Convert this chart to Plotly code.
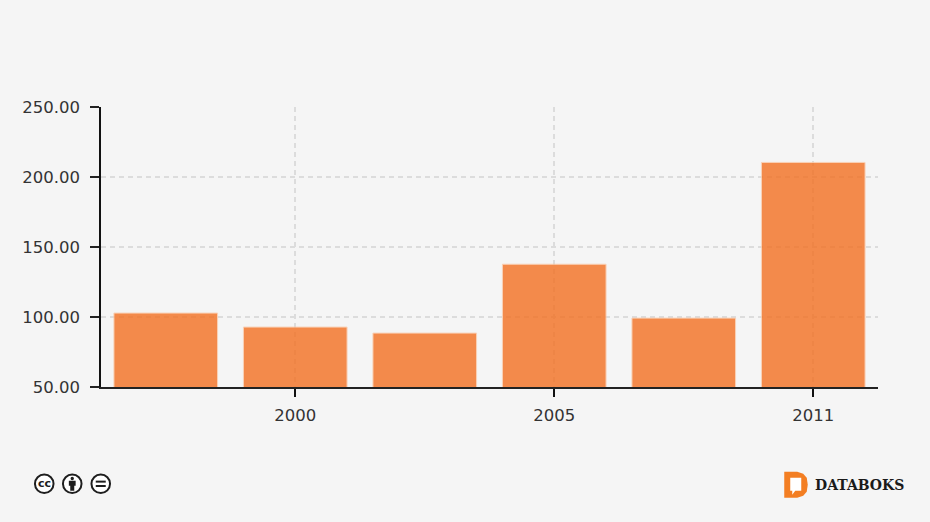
import plotly.graph_objects as go

W, H = 930, 522
L, R, T, B = 100.75, 877.75, 106.5, 387.0

categories = ["1995", "2000", "2003", "2005", "2008", "2011"]
values = [102.8, 92.8, 88.5, 137.7, 99.2, 210.4]
x_tick_labels = ["2000", "2005", "2011"]
y_ticks = [50, 100, 150, 200, 250]

BG = "#f5f5f5"
BAR = "#f37021"
INK = "#333333"
GRID = "#dcdcdc"
FONT = "DejaVu Sans"
TICK_SIZE = 16.5


def px(x):
    return (x - L) / (R - L)


def py(y):
    return (B - y) / (B - T)


def circle(cx, cy, r, **kw):
    return dict(type="circle", xref="paper", yref="paper", layer="above",
                x0=px(cx - r), x1=px(cx + r), y0=py(cy + r), y1=py(cy - r), **kw)


def rect(x0, y0, x1, y1, color):
    return dict(type="rect", xref="paper", yref="paper", layer="above",
                x0=px(x0), x1=px(x1), y0=py(y1), y1=py(y0),
                fillcolor=color, line=dict(width=0))


def path(points, color):
    d = "M " + " L ".join(f"{px(x):.5f},{py(y):.5f}" for x, y in points) + " Z"
    return dict(type="path", xref="paper", yref="paper", layer="above", path=d,
                fillcolor=color, line=dict(width=0))


fig = go.Figure(go.Bar(
    x=categories, y=values, width=0.8,
    marker=dict(color=BAR, opacity=0.8, line=dict(width=1, color="#fbc9a8")),
    hoverinfo="x+y",
))

shapes = []
# Creative Commons badges
ICON = "#1e1e1e"
for cx in (44, 72, 100.5):
    shapes.append(circle(cx, 484, 9.3, line=dict(color=ICON, width=2), fillcolor="#ffffff"))
# BY person
shapes.append(circle(72, 478.6, 1.7, line=dict(width=0), fillcolor=ICON))
shapes.append(path([(68.6, 481), (75.4, 481), (75.4, 486), (74, 486), (74, 491),
                    (70, 491), (70, 486), (68.6, 486)], ICON))
# ND equals
shapes.append(rect(95.5, 480.8, 105.5, 482.8, ICON))
shapes.append(rect(95.5, 485.2, 105.5, 487.2, ICON))
# Databoks mark
shapes.append(path([(784, 472), (797, 472), (803, 474), (806.5, 478), (807.5, 485),
                    (806.5, 492), (803, 496), (797, 498), (784, 498)], "#f37e22"))
shapes.append(path([(790, 478), (801, 478), (801, 491), (795, 491), (792, 495),
                    (792, 491), (790, 491)], "#ffffff"))

fig.update_layout(
    width=W, height=H, autosize=False,
    paper_bgcolor=BG, plot_bgcolor=BG,
    showlegend=False, bargap=0.2,
    margin=dict(l=L, r=W - R, t=T, b=H - B, pad=0),
    font=dict(family=FONT, size=15, color=INK),
    xaxis=dict(
        type="category", categoryorder="array", categoryarray=categories,
        range=[-0.5, 5.5],
        tickmode="array", tickvals=[categories[1], categories[3], categories[5]],
        ticktext=x_tick_labels,
        ticks="outside", ticklen=8, tickwidth=1.5, tickcolor="#111111",
        showgrid=True, gridcolor=GRID, griddash="5px,4px", gridwidth=1.5,
        showline=True, linecolor="#222222", linewidth=1.5,
        zeroline=False, ticklabelstandoff=4,
        tickfont=dict(family=FONT, size=TICK_SIZE, color=INK),
    ),
    yaxis=dict(
        range=[50, 250], tickmode="array", tickvals=y_ticks, tickformat=".2f",
        ticks="outside", ticklen=9, tickwidth=1.5, tickcolor="#222222",
        showgrid=True, gridcolor=GRID, griddash="5px,4px", gridwidth=1.5,
        showline=True, linecolor="#111111", linewidth=1.5,
        zeroline=False, ticklabelstandoff=7,
        tickfont=dict(family=FONT, size=TICK_SIZE, color=INK),
    ),
    shapes=shapes,
    annotations=[
        dict(text="<b>cc</b>", xref="paper", yref="paper", x=px(44), y=py(483.5),
             xanchor="center", yanchor="middle", showarrow=False,
             font=dict(family="DejaVu Sans", size=11, color=ICON)),
        dict(text="<b>DATABOKS</b>", xref="paper", yref="paper", x=px(813), y=py(485.5),
             xanchor="left", yanchor="middle", showarrow=False,
             font=dict(family="DejaVu Serif", size=14, color="#1a1a1a")),
    ],
)

fig.write_html("out.html", config={"displayModeBar": False},
               post_script="document.body.style.margin='0';document.body.style.background='#f5f5f5';")
